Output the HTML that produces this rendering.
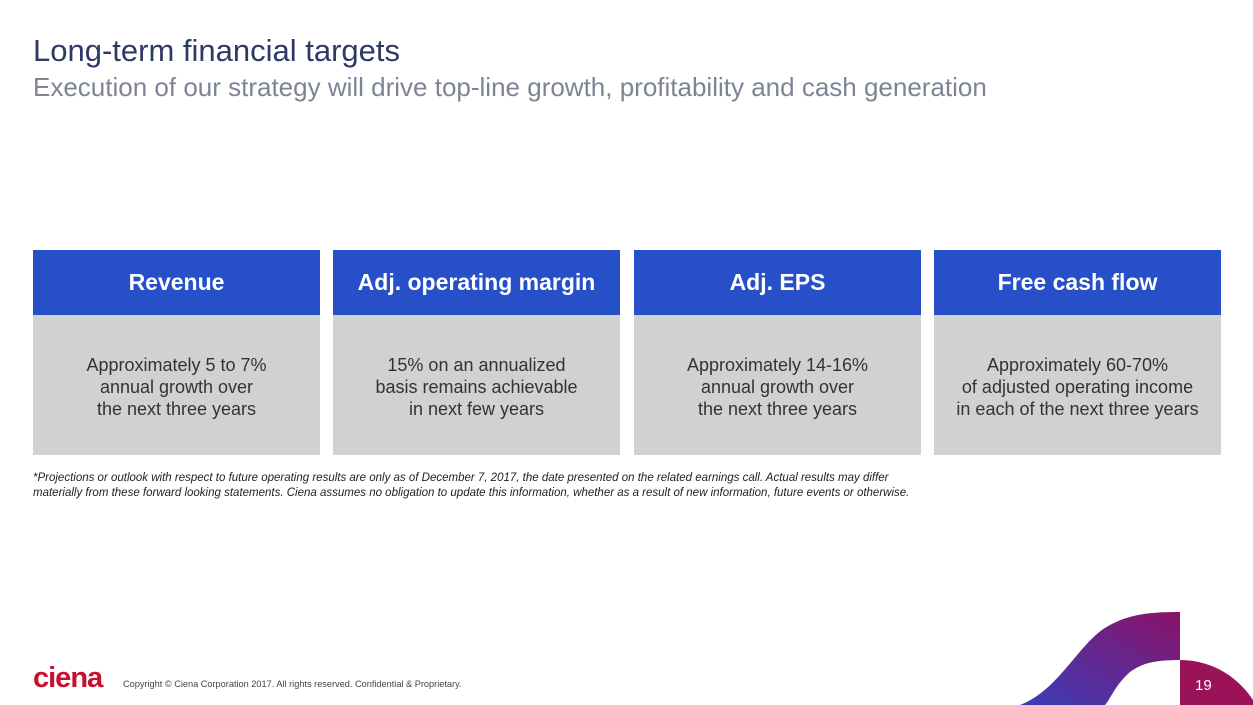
<!DOCTYPE html>
<html><head><meta charset="utf-8"><style>
body{margin:0;width:1253px;height:705px;position:relative;overflow:hidden;background:#fff;font-family:"Liberation Sans",Arial,sans-serif}
.t{position:absolute;left:33px;top:33px;font-size:31px;color:#2d3a66;white-space:nowrap}
.s{position:absolute;left:33px;top:72px;font-size:26px;color:#7e8496;white-space:nowrap}
.card{position:absolute;top:250px;width:287px;height:205px}
.h{height:65px;background:#2750c8;color:#fff;font-weight:bold;font-size:23px;display:flex;align-items:center;justify-content:center;white-space:nowrap}
.b{height:140px;background:#d0d1d3;color:#333;font-size:18px;line-height:22px;text-align:center;display:flex;align-items:center;justify-content:center;padding-top:4px;box-sizing:border-box;white-space:nowrap}
.fn{position:absolute;left:33px;top:471px;font-size:11.5px;font-style:italic;line-height:15px;color:#222;white-space:nowrap}
.cp{position:absolute;left:123px;top:679px;font-size:9.2px;color:#444;white-space:nowrap}
.logo{position:absolute;left:33px;top:662px;font-size:29px;font-weight:bold;color:#c8102e;letter-spacing:-1px}
</style></head><body>
<div class="t">Long-term financial targets</div>
<div class="s">Execution of our strategy will drive top-line growth, profitability and cash generation</div>
<div class="card" style="left:33px"><div class="h">Revenue</div><div class="b">Approximately 5 to 7%<br>annual growth over<br>the next three years</div></div>
<div class="card" style="left:333px"><div class="h">Adj. operating margin</div><div class="b">15% on an annualized<br>basis remains achievable<br>in next few years</div></div>
<div class="card" style="left:634px"><div class="h">Adj. EPS</div><div class="b">Approximately 14-16%<br>annual growth over<br>the next three years</div></div>
<div class="card" style="left:934px"><div class="h">Free cash flow</div><div class="b">Approximately 60-70%<br>of adjusted operating income<br>in each of the next three years</div></div>
<div class="fn">*Projections or outlook with respect to future operating results are only as of December 7, 2017, the date presented on the related earnings call. Actual results may differ<br>materially from these forward looking statements. Ciena assumes no obligation to update this information, whether as a result of new information, future events or otherwise.</div>
<div class="logo">ciena<span style="font-size:8px">.</span></div>
<div class="cp">Copyright © Ciena Corporation 2017. All rights reserved. Confidential &amp; Proprietary.</div>
<svg width="1253" height="705" style="position:absolute;left:0;top:0">
<defs><linearGradient id="g" x1="0" y1="1" x2="1" y2="0"><stop offset="0" stop-color="#3b3db8"/><stop offset="1" stop-color="#8a1268"/></linearGradient></defs>
<path d="M1020 705 C1060 690 1080 640 1110 625 C1130 614 1150 612 1180 612 L1180 660 C1150 660 1140 665 1130 672 C1115 685 1110 700 1105 705 Z" fill="url(#g)"/>
<path d="M1180 660 C1215 660 1240 680 1253 700 L1253 705 L1180 705 Z" fill="#9a1258"/>
<text x="1195" y="690" fill="#fff" font-size="15" font-family="Liberation Sans">19</text>
</svg>
</body></html>
